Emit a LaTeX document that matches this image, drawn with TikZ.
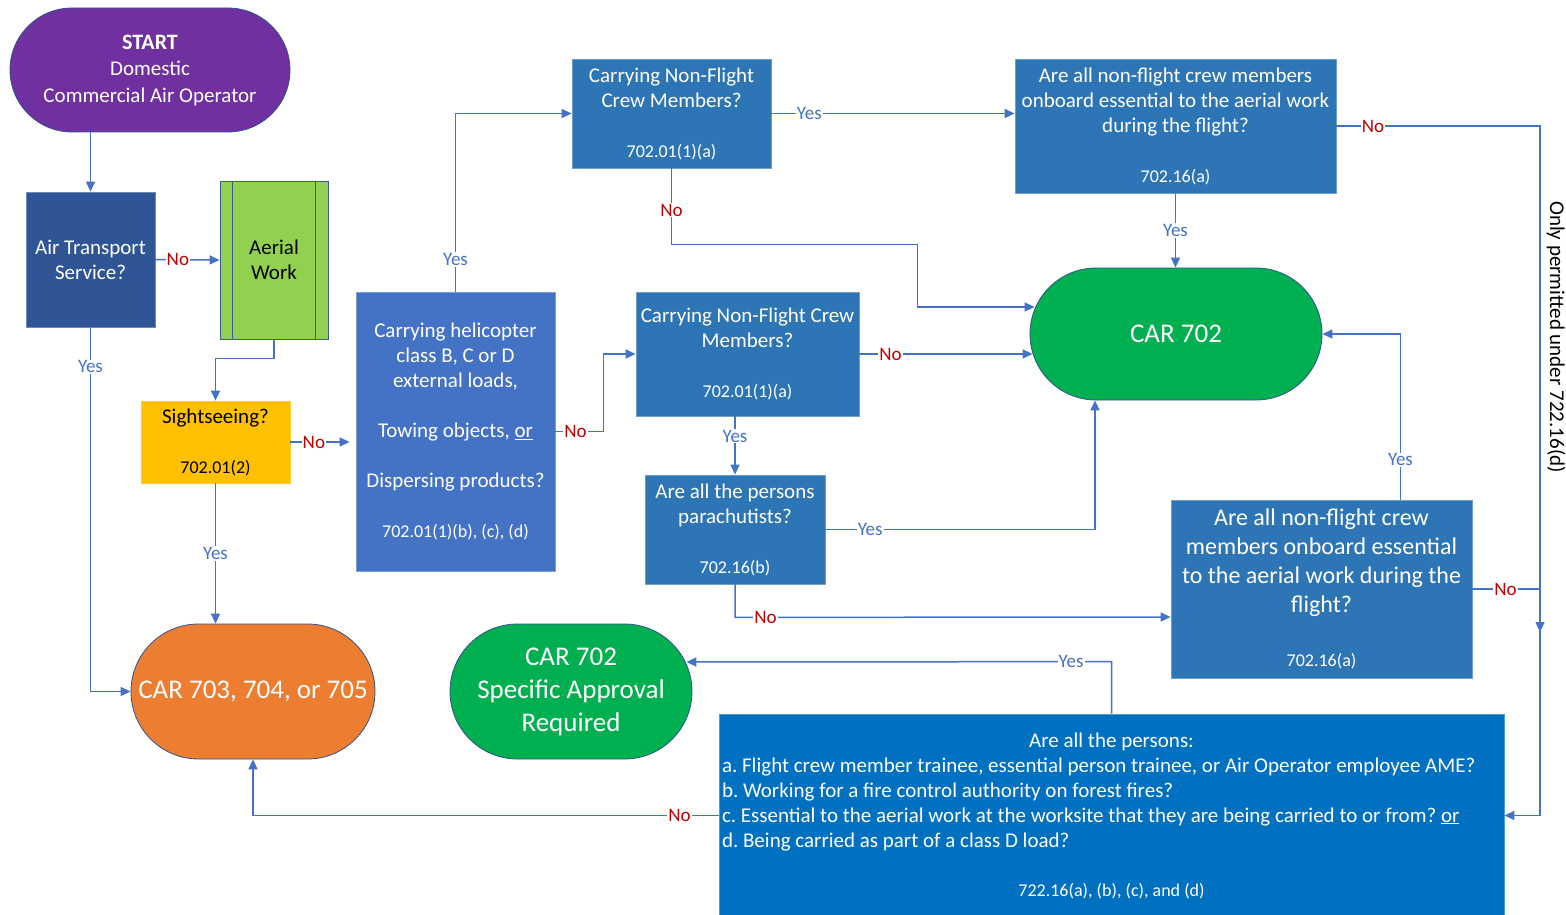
\documentclass[tikz,border=0pt]{standalone}
\usepackage{fontspec}
\setmainfont{Carlito}
\usetikzlibrary{arrows.meta,calc}
\frenchspacing
\definecolor{lc}{HTML}{4472C4}
\definecolor{noc}{HTML}{C00000}
\definecolor{purp}{HTML}{7030A0}
\definecolor{atsblue}{HTML}{2F5597}
\definecolor{awgreen}{HTML}{92D050}
\definecolor{sightor}{HTML}{FFC000}
\definecolor{heliblue}{HTML}{4472C4}
\definecolor{qblue}{HTML}{2E75B6}
\definecolor{cargreen}{HTML}{00B050}
\definecolor{carorange}{HTML}{ED7D31}
\definecolor{botblue}{HTML}{0070C0}
\definecolor{stadline}{HTML}{2F528F}
\newcommand\fsA{\fontsize{21}{25}\selectfont}
\newcommand\fsT{\fontsize{21}{26.5}\selectfont}
\newcommand\fsS{\fontsize{18}{25}\selectfont}
\newcommand\fsB{\fontsize{24}{29}\selectfont}
\newcommand\fsC{\fontsize{27}{33}\selectfont}
\newcommand\fsY{\fontsize{19}{23}\selectfont}
\tikzset{
  base/.style={rectangle, inner sep=0pt, align=center, text=white, font=\fsA},
  rbox/.style={base, fill=#1, draw=#1!70!white, line width=0.8pt},
  stad/.style={base, fill=#1, draw=stadline, line width=0.8pt},
  conn/.style={draw=lc, line width=1.5pt},
  arr/.style={conn, -{Triangle[length=10pt,width=9pt]}},
  yes/.style={fill=white, text=lc, inner sep=1pt, font=\fsY},
  no/.style={fill=white, text=noc, inner sep=1pt, font=\fsY},
}
\begin{document}
\begin{tikzpicture}[x=1pt,y=-1pt]
\useasboundingbox[fill=white] (0,0) rectangle (1566,915);

% nodes
\node[stad=purp, rounded corners=62pt, minimum width=280pt, minimum height=124pt, font=\fsT] (start) at (150,70)
  {{\fontsize{22}{26.5}\selectfont\textbf{START}}\\Domestic\\Commercial Air Operator};
\node[rbox=atsblue, minimum width=129pt, minimum height=135pt] (ats) at (90.5,259.5)
  {Air Transport\\Service?};
\node[base, fill=awgreen, draw=lc!80!black, line width=0.8pt, text=black, minimum width=108pt, minimum height=158pt] (aerial) at (274,260)
  {Aerial\\Work};
\draw[draw=lc!80!black, line width=0.8pt] ($(aerial.north west)+(13,0)$) -- ($(aerial.south west)+(13,0)$)
  ($(aerial.north east)+(-13,0)$) -- ($(aerial.south east)+(-13,0)$);
\node[rbox=sightor, draw=sightor!80!white, text=black, minimum width=149pt, minimum height=82pt] (sight) at (215.5,442)
  {Sightseeing?\\[25pt]{\fsS 702.01(2)}};
\node[rbox=heliblue, minimum width=199pt, minimum height=279pt] (heli) at (455.5,431.5)
  {Carrying helicopter\\class B, C or D\\external loads,\\[25pt]Towing objects, \underline{or}\\[25pt]Dispersing products?\\[25pt]{\fsS 702.01(1)(b), (c), (d)}};
\node[rbox=qblue, minimum width=199pt, minimum height=109pt] (cnf1) at (671.5,113.5)
  {Carrying Non-Flight\\Crew Members?\\[25pt]{\fsS 702.01(1)(a)}};
\node[rbox=qblue, minimum width=321pt, minimum height=134pt] (aa1) at (1175.5,126)
  {Are all non-flight crew members\\onboard essential to the aerial work\\during the flight?\\[25pt]{\fsS 702.16(a)}};
\node[stad=cargreen, rounded corners=66pt, minimum width=292pt, minimum height=132pt, font=\fsC] (car702) at (1176,334)
  {CAR 702};
\node[rbox=qblue, minimum width=223pt, minimum height=124pt] (cnf2) at (747.5,354)
  {Carrying Non-Flight Crew\\Members?\\[25pt]{\fsS 702.01(1)(a)}};
\node[rbox=qblue, minimum width=180pt, minimum height=109pt] (para) at (735,529.5)
  {Are all the persons\\parachutists?\\[25pt]{\fsS 702.16(b)}};
\node[rbox=qblue, minimum width=301pt, minimum height=178pt, font=\fsB] (aa2) at (1321.5,589)
  {Are all non-flight crew\\members onboard essential\\to the aerial work during the\\flight?\\[25pt]{\fsS 702.16(a)}};
\node[stad=carorange, rounded corners=67.5pt, minimum width=244pt, minimum height=135pt, font=\fsC] (car703) at (253,691.5)
  {CAR 703, 704, or 705};
\node[stad=cargreen, rounded corners=67.5pt, minimum width=242pt, minimum height=135pt, font=\fsC] (car702s) at (571,691.5)
  {CAR 702\\Specific Approval\\Required};
\node[rbox=botblue, minimum width=785pt, minimum height=203pt] (bot) at (1111.5,815.5)
  {\parbox{779pt}{\fsA\frenchspacing\setlength\parindent{0pt}\setlength\parskip{0pt}%
   {\centering Are all the persons:\par}%
   a. Flight crew member trainee, essential person trainee, or Air Operator employee AME?\par
   b. Working for a fire control authority on forest fires?\par
   c. Essential to the aerial work at the worksite that they are being carried to or from? \underline{or}\par
   d. Being carried as part of a class D load?\par
   \vspace{24pt}%
   {\centering\fsS 722.16(a), (b), (c), and (d)\par}}};
\node[rotate=-90, font=\fsA, text=black, inner sep=0pt] (only) at (1556,337) {Only permitted under 722.16(d)};

\coordinate (rj) at (1540,632);

% connectors
\draw[arr] (ats.north |- start.south) -- (ats.north);
\draw[arr] (ats.east) -- node[no, pos=0.35]{No} (aerial.west);
\draw[arr] (ats.south) |- node[yes, pos=0.054]{Yes} (car703.west);
\draw[arr] (aerial.south) -- ++(0,19) -| (sight.north);
\draw[arr, shorten >=6pt] (sight.east) -- node[no, pos=0.36]{No} (sight.east -| heli.west);
\draw[arr] (sight.south) -- node[yes, pos=0.5]{Yes} (sight.south |- car703.north);
\draw[arr] (heli.north) |- node[yes, pos=0.09]{Yes} (cnf1.west);
\draw[arr] (heli.east) -- node[no, pos=0.42]{No} ++(48,0) |- (cnf2.west);
\draw[arr] (cnf1.east) -- node[yes, pos=0.156]{Yes} (aa1.west |- cnf1.east);
\draw[arr] (cnf1.south) -- node[no, pos=0.55]{No} ++(0,76) -| ($(car702.west)+(-112,-27)$) -- ($(car702.west)+(5,-27)$);
\draw[arr] (aa1.east) -- node[no, pos=0.18]{No} (aa1.east -| rj) -- (rj);
\draw[arr] (aa1.south) -- node[yes, pos=0.5]{Yes} (aa1.south |- car702.north);
\draw[arr] (cnf2.east) -- node[no, pos=0.18]{No} ($(car702.west)+(3,20)$);
\draw[arr] (para.north |- cnf2.south) -- node[yes, pos=0.34]{Yes} (para.north);
\draw[arr] (para.east) -| node[yes, pos=0.083]{Yes} ($(car702.south)+(-81,0)$);
\draw[arr] (para.south) -- ++(0,33) -- node[no, pos=0.07]{No} ($(aa2.west)+(0,28)$);
\draw[arr] ($(aa2.north)+(79,0)$) |- node[yes, pos=0.12]{Yes} (car702.east);
\draw[arr] (aa2.east) -- node[no, pos=0.49]{No} (aa2.east -| rj) |- (bot.east);
\draw[arr] (bot.north) -- ++(0,-52) -- node[yes, pos=0.095]{Yes} ($(car702s.east)+(-6,-29.5)$);
\draw[arr] (bot.west) -| node[no, pos=0.042]{No} (car703.south);
\end{tikzpicture}
\end{document}
